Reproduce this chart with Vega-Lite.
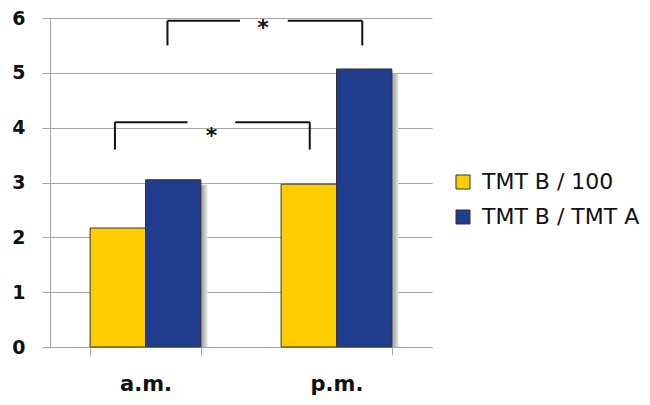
{
  "$schema": "https://vega.github.io/schema/vega-lite/v6.json",
  "width": 382,
  "height": 329,
  "autosize": {"type": "none"},
  "padding": {"left": 50, "top": 18, "right": 218, "bottom": 58},
  "background": "white",
  "config": {"view": {"stroke": null}, "font": "DejaVu Sans"},
  "datasets": {
    "bars": [
      {"period": "a.m.", "series": "TMT B / 100", "value": 2.17},
      {"period": "a.m.", "series": "TMT B / TMT A", "value": 3.05},
      {"period": "p.m.", "series": "TMT B / 100", "value": 2.97},
      {"period": "p.m.", "series": "TMT B / TMT A", "value": 5.07}
    ],
    "brackets": [
      {"x": 0.34, "x2": 0.34, "y": 3.6, "y2": 4.1},
      {"x": 0.34, "x2": 0.72, "y": 4.1, "y2": 4.1},
      {"x": 0.97, "x2": 1.36, "y": 4.1, "y2": 4.1},
      {"x": 1.36, "x2": 1.36, "y": 3.6, "y2": 4.1},
      {"x": 0.615, "x2": 0.615, "y": 5.5, "y2": 5.95},
      {"x": 0.615, "x2": 0.995, "y": 5.95, "y2": 5.95},
      {"x": 1.245, "x2": 1.635, "y": 5.95, "y2": 5.95},
      {"x": 1.635, "x2": 1.635, "y": 5.5, "y2": 5.95}
    ],
    "stars": [
      {"x": 0.845, "y": 3.85, "label": "*"},
      {"x": 1.115, "y": 5.82, "label": "*"}
    ]
  },
  "layer": [
    {
      "layer": [
        {
          "data": {"name": "bars"},
          "transform": [{"filter": "datum.series === 'TMT B / TMT A'"}],
          "mark": {
            "type": "bar",
            "width": 58,
            "xOffset": 33,
            "yOffset": 5,
            "clip": true,
            "color": {
              "gradient": "linear",
              "x1": 0, "x2": 1, "y1": 0, "y2": 0,
              "stops": [
                {"offset": 0, "color": "#8a8a8a"},
                {"offset": 0.86, "color": "#8a8a8a"},
                {"offset": 1, "color": "#e6e6e6"}
              ]
            }
          },
          "encoding": {
            "x": {
              "field": "period", "type": "nominal",
              "scale": {"paddingInner": 0.42, "paddingOuter": 0.21},
              "axis": {
                "title": null, "labelAngle": 0, "labelFontSize": 21, "labelFontWeight": "bold",
                "labelColor": "#111111", "labelPadding": 18, "tickBand": "extent", "tickSize": 8,
                "tickColor": "#a6a6a6", "domainColor": "#a6a6a6"
              }
            },
            "y": {"field": "value", "type": "quantitative", "scale": {"domain": [0, 6]}}
          }
        },
        {
          "data": {"name": "bars"},
          "mark": {"type": "bar", "stroke": "#333333", "strokeWidth": 1},
          "encoding": {
            "x": {
              "field": "period", "type": "nominal",
              "scale": {"paddingInner": 0.42, "paddingOuter": 0.21},
              "axis": {
                "title": null, "labelAngle": 0, "labelFontSize": 21, "labelFontWeight": "bold",
                "labelColor": "#111111", "labelPadding": 18, "tickBand": "extent", "tickSize": 8,
                "tickColor": "#a6a6a6", "domainColor": "#a6a6a6"
              }
            },
            "xOffset": {"field": "series", "type": "nominal", "sort": ["TMT B / 100", "TMT B / TMT A"]},
            "y": {
              "field": "value", "type": "quantitative",
              "scale": {"domain": [0, 6]},
              "axis": {
                "title": null, "values": [0, 1, 2, 3, 4, 5, 6], "format": "d", "grid": true, "gridColor": "#a6a6a6",
                "domainColor": "#a6a6a6", "tickColor": "#a6a6a6", "tickSize": 8,
                "labelFontSize": 19, "labelFontWeight": "bold", "labelColor": "#111111", "labelPadding": 17
              }
            },
            "color": {
              "field": "series", "type": "nominal",
              "scale": {"domain": ["TMT B / 100", "TMT B / TMT A"], "range": ["#FFCC00", "#213E8E"]},
              "legend": {
                "title": null, "orient": "none", "legendX": 402, "legendY": 153,
                "symbolType": "square", "symbolSize": 196, "symbolStrokeColor": "#333333",
                "symbolStrokeWidth": 1, "labelFontSize": 22, "labelColor": "#111111",
                "rowPadding": 13, "labelOffset": 8, "labelLimit": 300
              }
            }
          }
        }
      ]
    },
    {
      "layer": [
        {
          "data": {"name": "brackets"},
          "mark": {"type": "rule", "strokeWidth": 2, "color": "#111111"},
          "encoding": {
            "x": {"field": "x", "type": "quantitative", "scale": {"domain": [0, 2]}, "axis": null},
            "x2": {"field": "x2"},
            "y": {"field": "y", "type": "quantitative"},
            "y2": {"field": "y2"}
          }
        },
        {
          "data": {"name": "stars"},
          "mark": {"type": "text", "fontSize": 22, "fontWeight": "bold", "baseline": "middle", "align": "center", "color": "#111111"},
          "encoding": {
            "x": {"field": "x", "type": "quantitative", "scale": {"domain": [0, 2]}, "axis": null},
            "y": {"field": "y", "type": "quantitative"},
            "text": {"field": "label"}
          }
        }
      ]
    }
  ],
  "resolve": {"scale": {"x": "independent"}}
}
